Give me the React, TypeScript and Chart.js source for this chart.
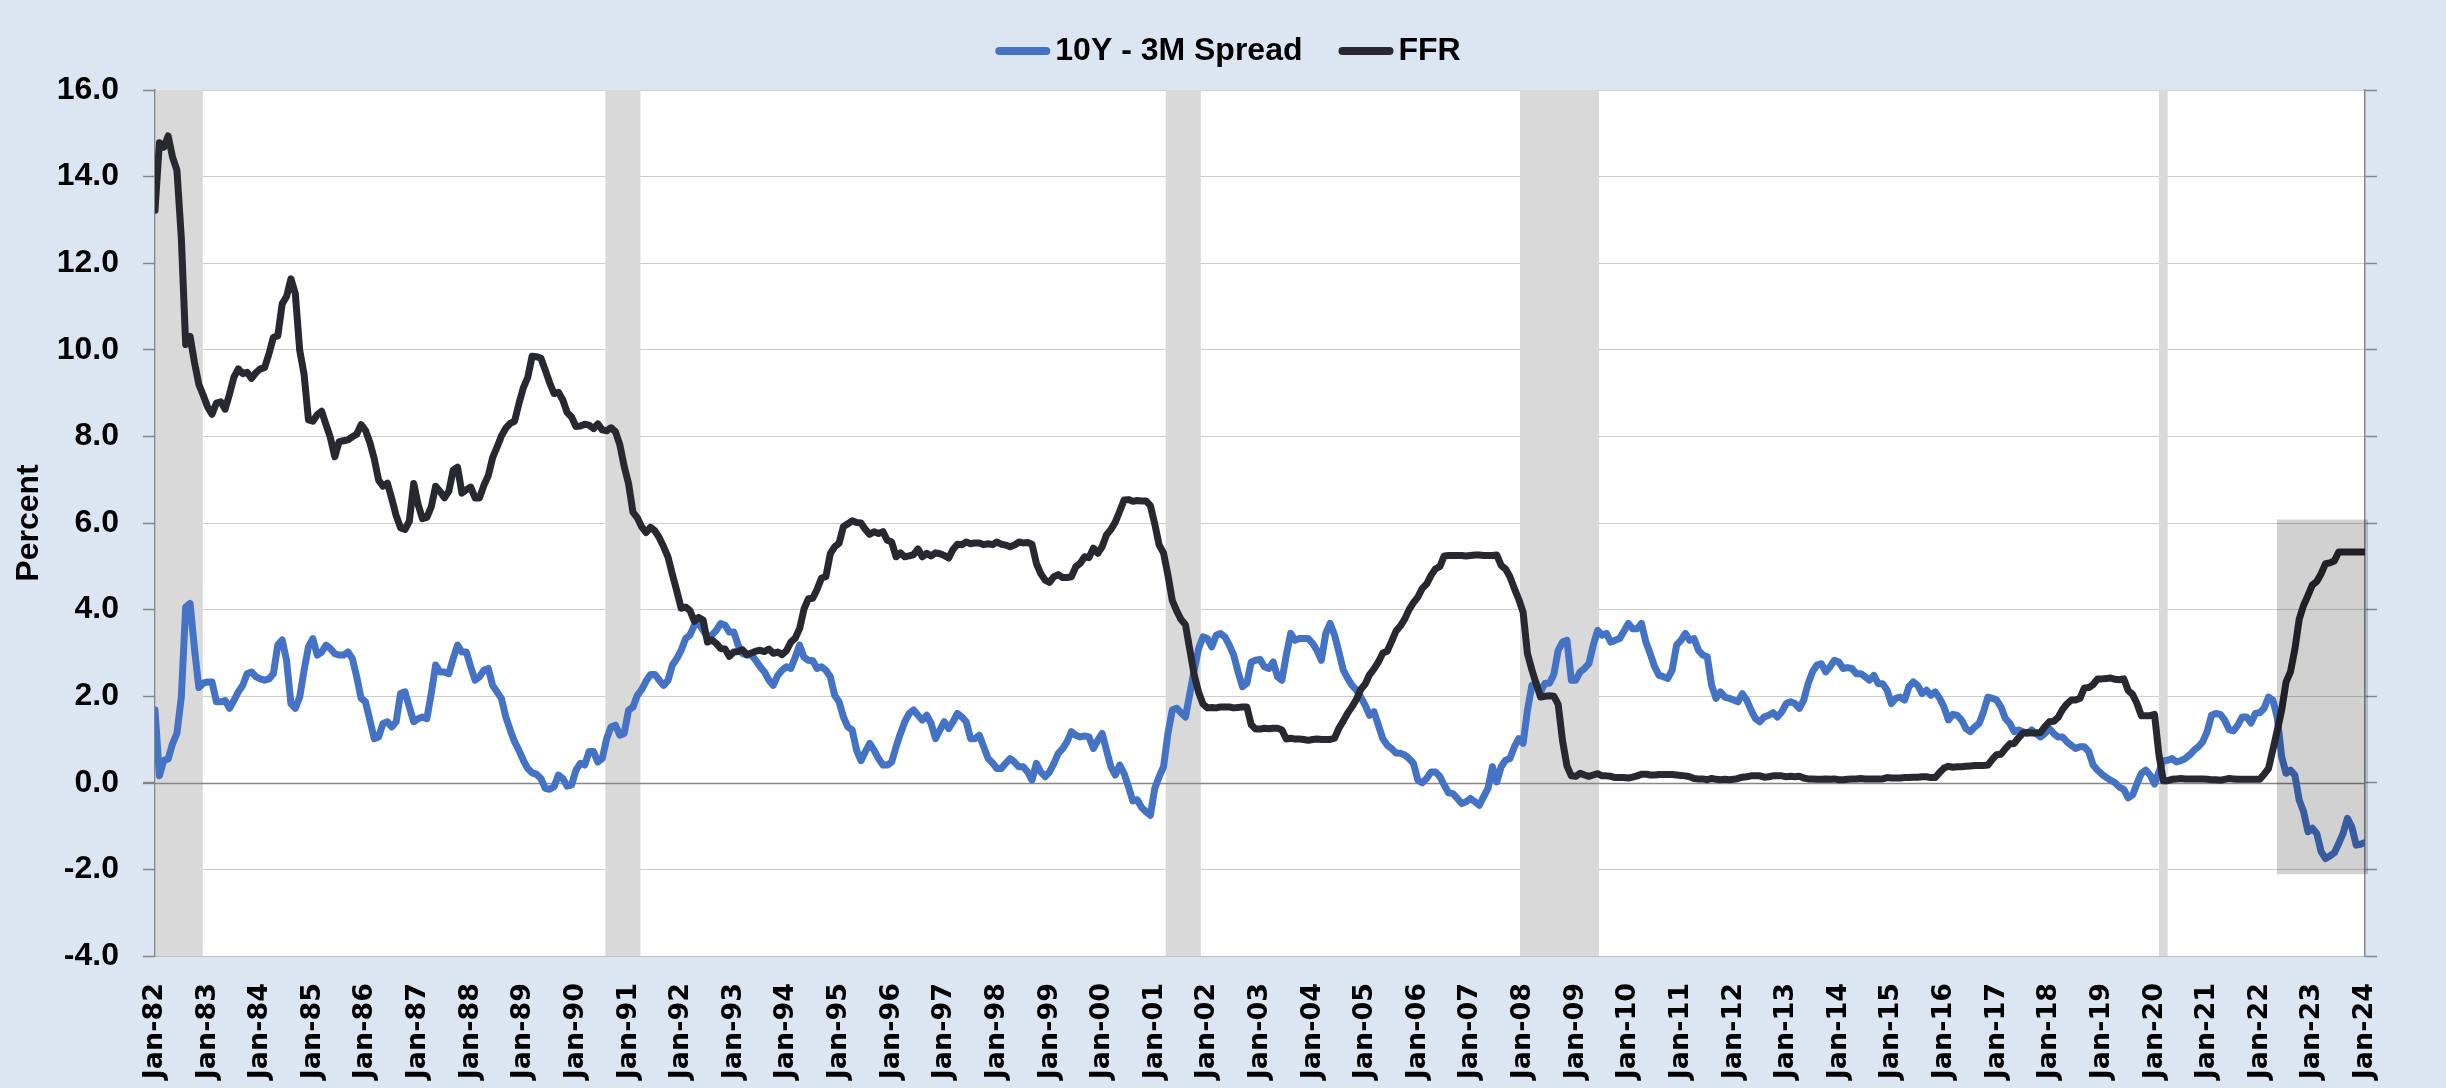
import React, { useEffect, useRef } from 'react';
import { Chart, registerables } from 'chart.js';

Chart.register(...registerables);

// Tick labels (one per January)
const tickLabels = [
  'Jan-82', 'Jan-83', 'Jan-84', 'Jan-85', 'Jan-86', 'Jan-87', 'Jan-88', 'Jan-89', 'Jan-90', 'Jan-91',
  'Jan-92', 'Jan-93', 'Jan-94', 'Jan-95', 'Jan-96', 'Jan-97', 'Jan-98', 'Jan-99', 'Jan-00', 'Jan-01',
  'Jan-02', 'Jan-03', 'Jan-04', 'Jan-05', 'Jan-06', 'Jan-07', 'Jan-08', 'Jan-09', 'Jan-10', 'Jan-11',
  'Jan-12', 'Jan-13', 'Jan-14', 'Jan-15', 'Jan-16', 'Jan-17', 'Jan-18', 'Jan-19', 'Jan-20', 'Jan-21',
  'Jan-22', 'Jan-23', 'Jan-24',
];

// 10Y - 3M spread, monthly, Jan-82 .. Jan-24 (one row per year)
const spread = [
  1.68, 0.16, 0.52, 0.55, 0.90, 1.14, 1.98, 4.06, 4.14, 3.10, 2.20, 2.30,
  2.33, 2.33, 1.87, 1.87, 1.90, 1.72, 1.90, 2.10, 2.25, 2.52, 2.56, 2.45,
  2.40, 2.37, 2.40, 2.52, 3.18, 3.30, 2.83, 1.83, 1.72, 1.98, 2.60, 3.14,
  3.33, 2.95, 3.02, 3.18, 3.10, 2.98, 2.95, 2.95, 3.02, 2.87, 2.45, 1.95,
  1.87, 1.45, 1.02, 1.06, 1.37, 1.41, 1.29, 1.41, 2.06, 2.10, 1.75, 1.41,
  1.48, 1.52, 1.48, 2.06, 2.72, 2.56, 2.56, 2.52, 2.87, 3.18, 3.02, 3.02,
  2.68, 2.37, 2.45, 2.60, 2.64, 2.25, 2.10, 1.95, 1.52, 1.22, 0.95, 0.75,
  0.52, 0.33, 0.23, 0.20, 0.10, -0.13, -0.15, -0.09, 0.18, 0.10, -0.08, -0.05,
  0.29, 0.45, 0.41, 0.72, 0.72, 0.48, 0.56, 1.02, 1.29, 1.33, 1.10, 1.14,
  1.68, 1.75, 2.02, 2.15, 2.35, 2.50, 2.50, 2.37, 2.25, 2.37, 2.72, 2.87,
  3.06, 3.33, 3.41, 3.64, 3.68, 3.52, 3.37, 3.41, 3.52, 3.68, 3.64, 3.48,
  3.48, 3.18, 2.98, 2.95, 2.95, 2.83, 2.68, 2.56, 2.37, 2.25, 2.48, 2.60,
  2.68, 2.64, 2.90, 3.18, 2.90, 2.83, 2.82, 2.64, 2.68, 2.60, 2.45, 2.02,
  1.87, 1.52, 1.29, 1.22, 0.75, 0.51, 0.72, 0.91, 0.75, 0.56, 0.41, 0.41,
  0.48, 0.83, 1.14, 1.41, 1.60, 1.68, 1.56, 1.45, 1.56, 1.37, 1.02, 1.22,
  1.41, 1.25, 1.41, 1.60, 1.52, 1.41, 1.02, 1.02, 1.10, 0.83, 0.56, 0.46,
  0.33, 0.33, 0.45, 0.56, 0.48, 0.37, 0.37, 0.25, 0.06, 0.45, 0.25, 0.14,
  0.25, 0.45, 0.68, 0.79, 0.95, 1.18, 1.10, 1.06, 1.08, 1.06, 0.79, 0.98,
  1.14, 0.75, 0.37, 0.18, 0.41, 0.22, -0.09, -0.42, -0.39, -0.57, -0.67, -0.75,
  -0.13, 0.14, 0.37, 1.14, 1.68, 1.72, 1.62, 1.52, 2.06, 2.60, 3.10, 3.37,
  3.33, 3.14, 3.41, 3.45, 3.37, 3.18, 2.95, 2.56, 2.22, 2.30, 2.79, 2.83,
  2.85, 2.68, 2.64, 2.79, 2.45, 2.37, 2.95, 3.45, 3.29, 3.33, 3.33, 3.33,
  3.22, 3.06, 2.83, 3.45, 3.68, 3.41, 3.02, 2.60, 2.41, 2.25, 2.14, 1.98,
  1.79, 1.56, 1.64, 1.33, 1.02, 0.87, 0.79, 0.69, 0.68, 0.64, 0.56, 0.45,
  0.06, 0.00, 0.10, 0.25, 0.25, 0.15, -0.05, -0.23, -0.25, -0.36, -0.48, -0.44,
  -0.36, -0.44, -0.52, -0.32, -0.13, 0.37, 0.02, 0.37, 0.52, 0.56, 0.83, 1.02,
  0.91, 1.68, 2.25, 2.30, 2.10, 2.30, 2.30, 2.50, 3.06, 3.25, 3.29, 2.37,
  2.37, 2.56, 2.64, 2.75, 3.18, 3.52, 3.41, 3.45, 3.25, 3.29, 3.33, 3.50,
  3.68, 3.56, 3.56, 3.68, 3.25, 2.98, 2.68, 2.48, 2.45, 2.41, 2.60, 3.18,
  3.29, 3.45, 3.29, 3.33, 3.06, 2.95, 2.91, 2.25, 1.95, 2.10, 1.98, 1.95,
  1.91, 1.87, 2.06, 1.91, 1.68, 1.48, 1.41, 1.52, 1.56, 1.62, 1.52, 1.64,
  1.83, 1.87, 1.83, 1.72, 1.91, 2.29, 2.56, 2.72, 2.75, 2.56, 2.68, 2.83,
  2.79, 2.64, 2.66, 2.64, 2.52, 2.52, 2.45, 2.37, 2.48, 2.29, 2.29, 2.14,
  1.83, 1.95, 1.98, 1.91, 2.22, 2.33, 2.25, 2.06, 2.14, 2.02, 2.10, 1.95,
  1.75, 1.45, 1.58, 1.56, 1.45, 1.25, 1.18, 1.29, 1.37, 1.64, 1.98, 1.95,
  1.91, 1.75, 1.48, 1.37, 1.18, 1.22, 1.18, 1.14, 1.22, 1.14, 1.06, 1.14,
  1.25, 1.14, 1.06, 1.06, 0.95, 0.87, 0.79, 0.83, 0.83, 0.72, 0.41, 0.29,
  0.20, 0.12, 0.06, 0.00, -0.10, -0.15, -0.35, -0.28, -0.02, 0.22, 0.29, 0.18,
  -0.03, 0.25, 0.51, 0.52, 0.56, 0.48, 0.51, 0.56, 0.64, 0.75, 0.83, 0.95,
  1.18, 1.56, 1.60, 1.58, 1.45, 1.23, 1.20, 1.33, 1.52, 1.52, 1.38, 1.60,
  1.62, 1.72, 1.98, 1.91, 1.50, 0.60, 0.22, 0.29, 0.18, -0.40, -0.67, -1.13,
  -1.05, -1.17, -1.59, -1.75, -1.69, -1.62, -1.40, -1.17, -0.82, -1.02, -1.44, -1.42,
  -1.38,
];

// Federal funds rate, monthly, Jan-82 .. Jan-24 (one row per year)
const ffr = [
  13.22, 14.78, 14.68, 14.94, 14.45, 14.15, 12.59, 10.12, 10.31, 9.71, 9.20, 8.95,
  8.68, 8.51, 8.77, 8.80, 8.63, 8.98, 9.37, 9.56, 9.45, 9.48, 9.34, 9.47,
  9.56, 9.59, 9.91, 10.29, 10.32, 11.06, 11.23, 11.64, 11.30, 9.99, 9.43, 8.38,
  8.35, 8.50, 8.58, 8.27, 7.97, 7.53, 7.88, 7.90, 7.92, 7.99, 8.05, 8.27,
  8.14, 7.86, 7.48, 6.99, 6.85, 6.92, 6.56, 6.17, 5.89, 5.85, 6.04, 6.91,
  6.43, 6.10, 6.13, 6.37, 6.85, 6.73, 6.58, 6.73, 7.22, 7.29, 6.69, 6.77,
  6.83, 6.58, 6.58, 6.87, 7.09, 7.51, 7.75, 8.01, 8.19, 8.30, 8.35, 8.76,
  9.12, 9.36, 9.85, 9.84, 9.81, 9.53, 9.24, 8.99, 9.02, 8.84, 8.55, 8.45,
  8.23, 8.24, 8.28, 8.26, 8.18, 8.29, 8.15, 8.13, 8.20, 8.11, 7.81, 7.31,
  6.91, 6.25, 6.12, 5.91, 5.78, 5.90, 5.82, 5.66, 5.45, 5.21, 4.81, 4.43,
  4.03, 4.06, 3.98, 3.73, 3.82, 3.76, 3.25, 3.30, 3.22, 3.10, 3.09, 2.92,
  3.02, 3.03, 3.07, 2.96, 3.00, 3.04, 3.06, 3.03, 3.09, 2.99, 3.02, 2.96,
  3.05, 3.25, 3.34, 3.56, 4.01, 4.25, 4.26, 4.47, 4.73, 4.76, 5.29, 5.45,
  5.53, 5.92, 5.98, 6.05, 6.01, 6.00, 5.85, 5.74, 5.80, 5.76, 5.80, 5.60,
  5.56, 5.22, 5.31, 5.22, 5.24, 5.27, 5.40, 5.22, 5.30, 5.24, 5.31, 5.29,
  5.25, 5.19, 5.39, 5.51, 5.50, 5.56, 5.52, 5.54, 5.54, 5.50, 5.52, 5.50,
  5.56, 5.51, 5.49, 5.45, 5.49, 5.56, 5.54, 5.55, 5.51, 5.07, 4.83, 4.68,
  4.63, 4.76, 4.81, 4.74, 4.74, 4.76, 4.99, 5.07, 5.22, 5.20, 5.42, 5.30,
  5.45, 5.73, 5.85, 6.02, 6.27, 6.53, 6.54, 6.50, 6.52, 6.51, 6.51, 6.40,
  5.98, 5.49, 5.31, 4.80, 4.21, 3.97, 3.77, 3.65, 3.07, 2.49, 2.09, 1.82,
  1.73, 1.74, 1.73, 1.75, 1.75, 1.75, 1.73, 1.74, 1.75, 1.75, 1.34, 1.24,
  1.24, 1.26, 1.25, 1.26, 1.26, 1.22, 1.01, 1.03, 1.01, 1.01, 1.00, 0.98,
  1.00, 1.01, 1.00, 1.00, 1.00, 1.03, 1.26, 1.43, 1.61, 1.76, 1.93, 2.16,
  2.28, 2.50, 2.63, 2.79, 3.00, 3.04, 3.26, 3.50, 3.62, 3.78, 4.00, 4.16,
  4.29, 4.49, 4.59, 4.79, 4.94, 4.99, 5.24, 5.25, 5.25, 5.25, 5.25, 5.24,
  5.25, 5.26, 5.26, 5.25, 5.25, 5.25, 5.26, 5.02, 4.94, 4.76, 4.49, 4.24,
  3.94, 2.98, 2.61, 2.28, 1.98, 2.00, 2.01, 2.00, 1.81, 0.97, 0.39, 0.16,
  0.15, 0.22, 0.18, 0.15, 0.18, 0.21, 0.16, 0.16, 0.15, 0.12, 0.12, 0.12,
  0.11, 0.13, 0.16, 0.20, 0.20, 0.18, 0.18, 0.19, 0.19, 0.19, 0.19, 0.18,
  0.17, 0.16, 0.14, 0.10, 0.09, 0.09, 0.07, 0.10, 0.08, 0.07, 0.08, 0.07,
  0.08, 0.10, 0.13, 0.14, 0.16, 0.16, 0.16, 0.13, 0.14, 0.16, 0.16, 0.16,
  0.14, 0.15, 0.14, 0.15, 0.11, 0.09, 0.09, 0.08, 0.08, 0.09, 0.08, 0.09,
  0.07, 0.07, 0.08, 0.09, 0.09, 0.10, 0.09, 0.09, 0.09, 0.09, 0.09, 0.12,
  0.11, 0.11, 0.11, 0.12, 0.12, 0.13, 0.13, 0.14, 0.14, 0.12, 0.12, 0.24,
  0.34, 0.38, 0.36, 0.37, 0.37, 0.38, 0.39, 0.40, 0.40, 0.40, 0.41, 0.54,
  0.65, 0.66, 0.79, 0.90, 0.91, 1.04, 1.15, 1.16, 1.15, 1.15, 1.16, 1.30,
  1.41, 1.42, 1.51, 1.69, 1.82, 1.91, 1.91, 1.95, 2.19, 2.20, 2.27, 2.40,
  2.40, 2.41, 2.42, 2.39, 2.38, 2.40, 2.13, 2.04, 1.83, 1.55, 1.55, 1.55,
  1.58, 0.65, 0.05, 0.05, 0.08, 0.09, 0.10, 0.09, 0.09, 0.09, 0.09, 0.09,
  0.08, 0.07, 0.07, 0.06, 0.08, 0.10, 0.09, 0.08, 0.08, 0.08, 0.08, 0.08,
  0.08, 0.20, 0.33, 0.77, 1.21, 1.68, 2.33, 2.56, 3.08, 3.78, 4.10, 4.33,
  4.57, 4.65, 4.83, 5.06, 5.08, 5.12, 5.33, 5.33, 5.33, 5.33, 5.33, 5.33,
  5.33,
];

// Recession periods, in months from Jan-82
const recessionStart = [0, 102.7, 230.5, 311.3, 457];
const recessionEnd = [10.9, 110.7, 238.5, 329.3, 459];

// Highlight box (May-22 onward)
const highlightStart = 483.9;
const highlightTop = 6.08;
const highlightBottom = -2.11;

const BLUE = '#4472c4';
const DARK = '#282830';
const AXIS_GREY = '#868686';
const GRID_GREY = '#9a9a9a';
const PAGE_BG = '#dce6f2';
const BAND = '#d9d9d9';

const sansBold = '"Liberation Sans", Arial, sans-serif';

const decorPlugin = {
  id: 'decor',
  beforeDraw(chart: any) {
    const { ctx, chartArea: a, width, height } = chart;
    ctx.save();
    ctx.fillStyle = PAGE_BG;
    ctx.fillRect(0, 0, width, height);
    ctx.fillStyle = '#ffffff';
    ctx.fillRect(a.left, a.top, a.right - a.left, a.bottom - a.top);
    ctx.restore();
  },
  beforeDatasetsDraw(chart: any) {
    const { ctx, chartArea: a, scales } = chart;
    const x = scales.x;
    const y = scales.y;
    ctx.save();
    ctx.fillStyle = BAND;
    for (let i = 0; i < recessionStart.length; i++) {
      const x1 = Math.max(x.getPixelForValue(recessionStart[i]), a.left + 1);
      const x2 = Math.min(x.getPixelForValue(recessionEnd[i]), a.right);
      ctx.fillRect(x1, a.top, x2 - x1, a.bottom - a.top);
    }
    // zero line (horizontal axis crossing)
    const y0 = Math.round(y.getPixelForValue(0)) + 0.5;
    ctx.strokeStyle = AXIS_GREY;
    ctx.lineWidth = 1.5;
    ctx.beginPath();
    ctx.moveTo(a.left - 12, y0);
    ctx.lineTo(a.right, y0);
    ctx.stroke();
    ctx.restore();
  },
  afterDatasetsDraw(chart: any) {
    const { ctx, chartArea: a, scales } = chart;
    const x = scales.x;
    const y = scales.y;
    const x1 = x.getPixelForValue(highlightStart);
    const x2 = a.right + 3;
    const y1 = y.getPixelForValue(highlightTop);
    const y2 = y.getPixelForValue(highlightBottom);
    ctx.save();
    ctx.fillStyle = 'rgba(0,0,0,0.18)';
    ctx.fillRect(x1, y1, x2 - x1, y2 - y1);
    ctx.restore();
  },
  afterDraw(chart: any) {
    const { ctx, width } = chart;
    const items = chart.data.datasets.map((d: any) => ({ label: d.label, color: d.borderColor }));
    ctx.save();
    ctx.font = `bold 32px ${sansBold}`;
    ctx.textBaseline = 'middle';
    ctx.textAlign = 'left';
    const swatch = 55;
    const gap = 5;
    const itemGap = 36;
    const widths = items.map((it: any) => swatch + gap + ctx.measureText(it.label).width);
    const total = widths.reduce((s: number, w: number) => s + w, 0) + itemGap * (items.length - 1);
    let cx = width / 2 - total / 2 + 5;
    const cy = 50;
    items.forEach((it: any, i: number) => {
      ctx.strokeStyle = it.color;
      ctx.lineWidth = 8;
      ctx.lineCap = 'round';
      ctx.beginPath();
      ctx.moveTo(cx + 4, cy + 1);
      ctx.lineTo(cx + swatch - 4, cy + 1);
      ctx.stroke();
      ctx.fillStyle = '#000000';
      ctx.fillText(it.label, cx + swatch + gap, cy + 1);
      cx += widths[i] + itemGap;
    });
    ctx.restore();
  },
};

export default function App() {
  const ref = useRef<HTMLCanvasElement>(null);

  useEffect(() => {
    document.body.style.margin = '0';
    const canvas = ref.current;
    if (!canvas) return;

    const chart = new Chart(canvas, {
      type: 'line',
      data: {
        datasets: [
          {
            label: '10Y - 3M Spread',
            data: spread.map((v, i) => ({ x: i, y: v })),
            borderColor: BLUE,
            backgroundColor: BLUE,
            borderWidth: 7,
            pointRadius: 0,
            tension: 0,
            borderJoinStyle: 'round',
            borderCapStyle: 'round',
            order: 1,
          },
          {
            label: 'FFR',
            data: ffr.map((v, i) => ({ x: i, y: v })),
            borderColor: DARK,
            backgroundColor: DARK,
            borderWidth: 7,
            pointRadius: 0,
            tension: 0,
            borderJoinStyle: 'round',
            borderCapStyle: 'round',
            order: 0,
          },
        ],
      },
      options: {
        animation: false,
        responsive: false,
        devicePixelRatio: 1,
        events: [],
        layout: { padding: { top: 90, left: 0, right: 0, bottom: 0 } },
        plugins: {
          legend: { display: false },
          tooltip: { enabled: false },
        },
        scales: {
          x: {
            type: 'linear',
            position: 'bottom',
            min: 0,
            max: spread.length - 1,
            grid: { display: false, drawTicks: false, tickLength: 0 },
            border: { display: false },
            ticks: {
              stepSize: 12,
              autoSkip: false,
              maxRotation: 90,
              minRotation: 90,
              padding: 27,
              color: '#000000',
              font: { family: '"DejaVu Sans", Verdana, sans-serif', weight: 'bold', size: 27 },
              callback: (v: any) => {
                const n = Number(v);
                return n % 12 === 0 ? tickLabels[n / 12] ?? '' : '';
              },
            },
            afterFit: (s: any) => {
              s.height = 132;
            },
          },
          y: {
            type: 'linear',
            position: 'left',
            min: -4,
            max: 16,
            grid: {
              color: (c: any) => (c.tick && c.tick.value === 0 ? 'rgba(0,0,0,0)' : GRID_GREY),
              lineWidth: 1,
              tickLength: 12,
              tickColor: AXIS_GREY,
              tickWidth: 1.5,
              tickBorderDash: [],
            },
            border: { display: true, color: AXIS_GREY, width: 1.5, dash: [1, 1] },
            ticks: {
              stepSize: 2,
              padding: 24,
              color: '#000000',
              font: { family: sansBold, weight: 'bold', size: 32 },
              callback: (v: any) => Number(v).toFixed(1),
            },
            title: {
              display: true,
              text: 'Percent',
              color: '#000000',
              font: { family: sansBold, weight: 'bold', size: 32 },
              padding: { top: 10, bottom: 0 },
            },
            afterFit: (s: any) => {
              s.width = 155;
            },
          },
          y2: {
            type: 'linear',
            position: 'right',
            min: -4,
            max: 16,
            grid: {
              drawOnChartArea: false,
              tickLength: 12,
              tickColor: AXIS_GREY,
              tickWidth: 1.5,
            },
            border: { display: true, color: AXIS_GREY, width: 1.5 },
            ticks: { stepSize: 2, display: false },
            afterFit: (s: any) => {
              s.width = 81;
            },
          },
        },
      },
      plugins: [decorPlugin],
    } as any);

    return () => chart.destroy();
  }, []);

  return (
    <div style={{ position: 'absolute', left: 0, top: 0, width: 2446, height: 1088 }}>
      <canvas ref={ref} width={2446} height={1088} style={{ width: 2446, height: 1088, display: 'block' }} />
    </div>
  );
}
